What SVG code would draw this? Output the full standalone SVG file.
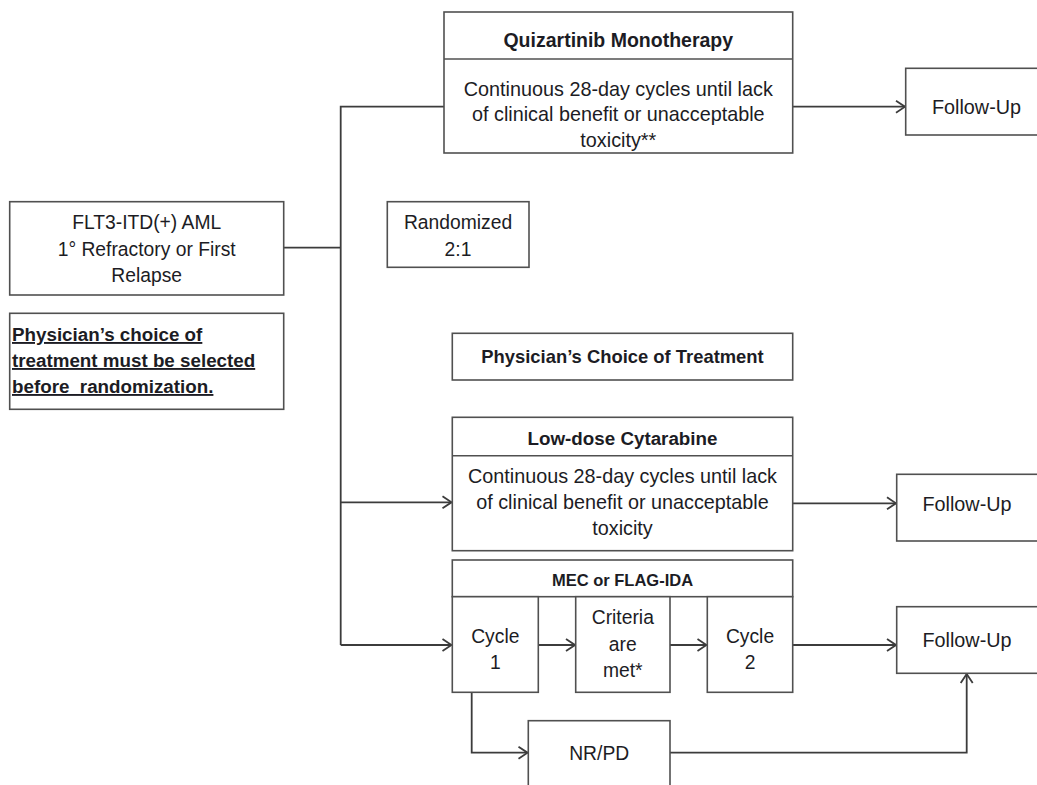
<svg xmlns="http://www.w3.org/2000/svg" width="1037" height="785" viewBox="0 0 1037 785">
<style>
  .box { fill: #ffffff; stroke: #505050; stroke-width: 1.6; }
  .t { font-family: "Liberation Sans", Arial, sans-serif; font-size: 19.3px; fill: #1c1c24; text-anchor: middle; }
  .b { font-family: "Liberation Sans", Arial, sans-serif; font-weight: bold; font-size: 18.8px; fill: #1c1c24; text-anchor: middle; }
  .note { font-family: "Liberation Sans", Arial, sans-serif; font-weight: bold; font-size: 18.8px; fill: #1c1c24; text-decoration: underline; white-space: pre; }
  .c { fill: none; stroke: #3c3c3c; stroke-width: 1.8; }
  .a { marker-end: url(#arrow); }
</style>
<defs>
  <marker id="arrow" markerUnits="userSpaceOnUse" viewBox="-11 -8 12 16" refX="0" refY="0" markerWidth="12" markerHeight="16" orient="auto">
    <path d="M-9,-6 L0,0 L-9,6" fill="none" stroke="#3c3c3c" stroke-width="1.8"/>
  </marker>
</defs>
<rect width="1037" height="785" fill="#ffffff"/>

<g id="connectors">
  <path class="c" d="M283.7,247.7 H340.7"/>
  <path class="c" d="M444,106.7 H340.7 V645"/>
  <path class="c a" d="M340.7,502.3 H451.5"/>
  <path class="c a" d="M340.7,645 H451.5"/>
  <path class="c a" d="M792.7,106.7 H905"/>
  <path class="c a" d="M792.7,503.3 H896"/>
  <path class="c a" d="M538.3,645 H575"/>
  <path class="c a" d="M670,645 H706.5"/>
  <path class="c a" d="M792.7,645 H896"/>
  <path class="c a" d="M471.7,692.3 V752.7 H527.5"/>
  <path class="c a" d="M670,752.7 H966.7 V674"/>
</g>

<g id="flt3">
  <rect class="box" x="9.7" y="201.7" width="274" height="93.3"/>
  <text class="t" x="146.7" y="229">FLT3-ITD(+) AML</text>
  <text class="t" x="146.7" y="255.5">1° Refractory or First</text>
  <text class="t" x="146.7" y="282">Relapse</text>
</g>

<g id="note">
  <rect class="box" x="9.7" y="313.3" width="274" height="96"/>
  <text class="note" x="12" y="341">Physician’s choice of</text>
  <text class="note" x="12" y="367">treatment must be selected</text>
  <text class="note" x="12" y="393">before  randomization.</text>
</g>

<g id="randomized">
  <rect class="box" x="387.3" y="201.7" width="141.7" height="65.6"/>
  <text class="t" x="458" y="229.3">Randomized</text>
  <text class="t" x="458" y="256">2:1</text>
</g>

<g id="quizartinib">
  <rect class="box" x="444" y="12" width="348.7" height="141"/>
  <line class="box" x1="444" y1="59" x2="792.7" y2="59"/>
  <text class="b" x="618.3" y="47" style="font-size:19.5px">Quizartinib Monotherapy</text>
  <text class="t" x="618.3" y="95.5" style="font-size:19.8px">Continuous 28-day cycles until lack</text>
  <text class="t" x="618.3" y="121" style="font-size:19.8px">of clinical benefit or unacceptable</text>
  <text class="t" x="618.3" y="146.5" style="font-size:19.8px">toxicity**</text>
</g>

<g id="followup1">
  <rect class="box" x="905.7" y="68.3" width="141" height="66.7"/>
  <text class="t" x="976.5" y="114" style="font-size:19.8px">Follow-Up</text>
</g>

<g id="physicians-choice">
  <rect class="box" x="452.3" y="333.3" width="340.4" height="46.7"/>
  <text class="b" x="622.5" y="362.5" style="font-size:18.4px">Physician’s Choice of Treatment</text>
</g>

<g id="ldac">
  <rect class="box" x="452.3" y="417.3" width="340.4" height="133.4"/>
  <line class="box" x1="452.3" y1="455.7" x2="792.7" y2="455.7"/>
  <text class="b" x="622.5" y="445">Low-dose Cytarabine</text>
  <text class="t" x="622.5" y="482.7" style="font-size:19.8px">Continuous 28-day cycles until lack</text>
  <text class="t" x="622.5" y="509.3" style="font-size:19.8px">of clinical benefit or unacceptable</text>
  <text class="t" x="622.5" y="535" style="font-size:19.8px">toxicity</text>
</g>

<g id="followup2">
  <rect class="box" x="896.7" y="474.3" width="142" height="66.7"/>
  <text class="t" x="967" y="511" style="font-size:19.8px">Follow-Up</text>
</g>

<g id="mec">
  <rect class="box" x="452.3" y="560" width="340.4" height="36.7"/>
  <text class="b" x="622.5" y="586" style="font-size:16.5px">MEC or FLAG-IDA</text>
</g>

<g id="cycle1">
  <rect class="box" x="452.3" y="596.7" width="86" height="95.6"/>
  <text class="t" x="495.3" y="643.3">Cycle</text>
  <text class="t" x="495.3" y="669.3">1</text>
</g>

<g id="criteria">
  <rect class="box" x="575.7" y="596.7" width="94.3" height="95.6"/>
  <text class="t" x="622.8" y="624">Criteria</text>
  <text class="t" x="622.8" y="650.5">are</text>
  <text class="t" x="622.8" y="677">met*</text>
</g>

<g id="cycle2">
  <rect class="box" x="707.3" y="596.7" width="85.4" height="95.6"/>
  <text class="t" x="750" y="643.3">Cycle</text>
  <text class="t" x="750" y="669.3">2</text>
</g>

<g id="followup3">
  <rect class="box" x="896.7" y="606.7" width="142" height="66.6"/>
  <text class="t" x="967" y="646.6" style="font-size:19.8px">Follow-Up</text>
</g>

<g id="nrpd">
  <rect class="box" x="528.3" y="720.7" width="141.7" height="80"/>
  <text class="t" x="599.2" y="760">NR/PD</text>
</g>
</svg>
